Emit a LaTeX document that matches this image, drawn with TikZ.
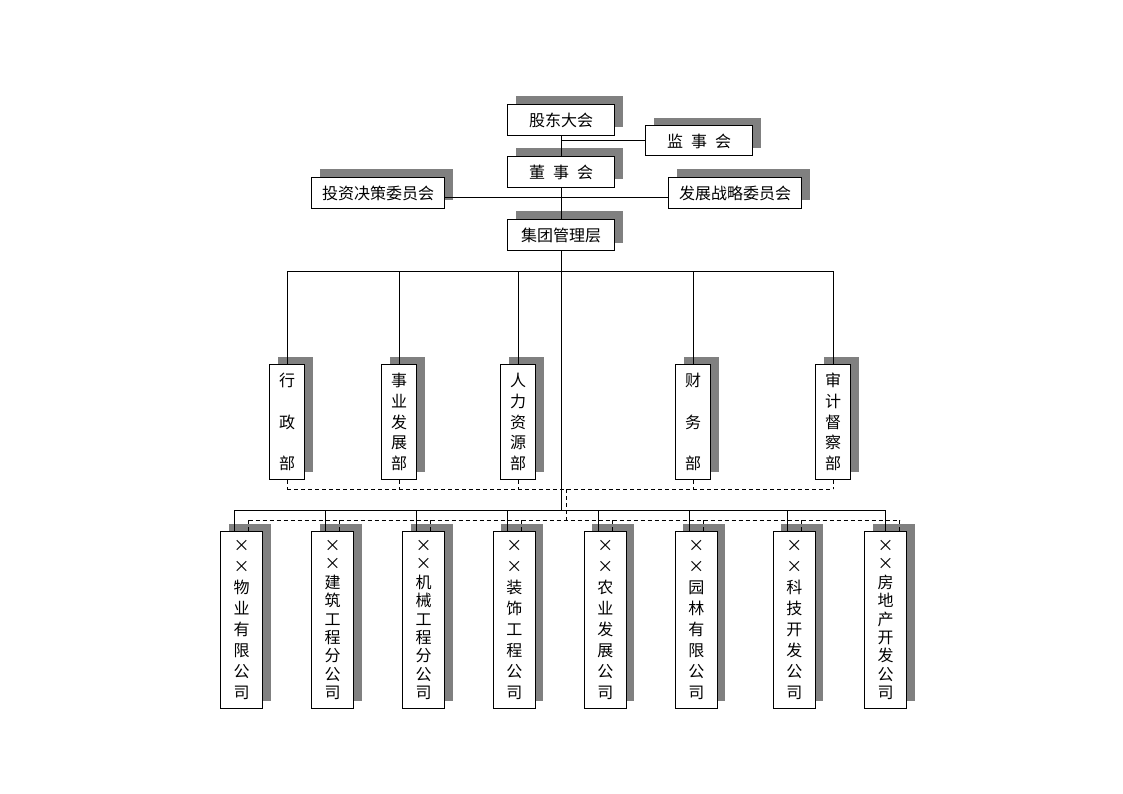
\documentclass[tikz,border=0pt]{standalone}
\usepackage{fontspec}
\newfontfamily\cjk{Noto Sans CJK SC}
\usepackage{tikz}
\usetikzlibrary{shadows}

\begin{document}
\begin{tikzpicture}[x=1pt, y=-1pt, line width=1pt,
  box/.style={draw, fill=white, inner sep=0pt, font=\cjk\fontsize{16pt}{19pt}\selectfont,
    general shadow={fill=gray, shadow xshift=8pt, shadow yshift=8pt}},
  hbox/.style={box, minimum width=107pt, minimum height=31pt},
  dbox/.style={box, minimum width=35pt, minimum height=115pt, align=center, font=\cjk\fontsize{16pt}{#1}\selectfont},
  vbox/.style={box, minimum width=42pt, minimum height=177pt, align=center, font=\cjk\fontsize{16pt}{#1}\selectfont},
  dashline/.style={dash pattern=on 4pt off 3pt}]
\useasboundingbox (0,0) rectangle (1123,794);
% top of the chart: boards and committees
\node[hbox] (gd) at (561,120) {股东大会};
\node[hbox, minimum height=30pt] (js) at (699,141) {监\hspace{0.5em}事\hspace{0.5em}会};
\node[hbox] (dsh) at (561,172) {董\hspace{0.5em}事\hspace{0.5em}会};
\node[hbox, minimum width=133pt] (tz) at (378,193) {投资决策委员会};
\node[hbox, minimum width=133pt] (fz) at (735,193) {发展战略委员会};
\node[hbox] (jt) at (561,235) {集团管理层};
% departments
\foreach \n/\x/\s/\t in {xz/287/41.3pt/{行\\政\\部}, sy/399/20.6pt/{事\\业\\发\\展\\部},
    rl/518/20.6pt/{人\\力\\资\\源\\部}, cw/693/41.3pt/{财\\务\\部}, sj/833/20.6pt/{审\\计\\督\\察\\部}}
  \node[dbox=\s] (\n) at (\x,422) {\t};
% subsidiaries
\foreach \n/\x/\s/\t in {s1/241.5/21pt/{×\\×\\物\\业\\有\\限\\公\\司},
    s2/332.5/18.4pt/{×\\×\\建\\筑\\工\\程\\分\\公\\司},
    s3/423.5/18.4pt/{×\\×\\机\\械\\工\\程\\分\\公\\司},
    s4/514.3/21pt/{×\\×\\装\\饰\\工\\程\\公\\司},
    s5/605.3/21pt/{×\\×\\农\\业\\发\\展\\公\\司},
    s6/696.3/21pt/{×\\×\\园\\林\\有\\限\\公\\司},
    s7/794.3/21pt/{×\\×\\科\\技\\开\\发\\公\\司},
    s8/885.5/18.4pt/{×\\×\\房\\地\\产\\开\\发\\公\\司}}
  \node[vbox=\s] (\n) at (\x,620) {\t};
% bus lines
\coordinate (dbus) at (0,271);
\coordinate (ddash) at (0,489);
\coordinate (sbus) at ([yshift=21pt]s1.north);
\coordinate (sdash) at ([yshift=11pt]s1.north);
\coordinate (link) at (566,489);
% spine
\draw (gd.south) -- (dsh.north);
\draw (gd.south |- js.west) -- (js.west);
\draw (dsh.south) -- (jt.north);
\draw ([yshift=-5pt]tz.east) -- ([yshift=-5pt]fz.west);
\draw (jt.south) -- (jt.south |- sbus);
% departments
\draw (xz.north |- dbus) -- (sj.north |- dbus);
\foreach \n in {xz,sy,rl,cw,sj}{
  \draw (\n.north |- dbus) -- (\n.north);
  \draw[dashline] (\n.south) -- (\n.south |- ddash);
}
\draw[dashline] (xz.south |- ddash) -- (sj.south |- ddash);
\draw[dashline] (link) -- (link |- sdash);
% subsidiaries
\draw ([xshift=-7pt,yshift=21pt]s1.north) -- ([yshift=21pt]s8.north);
\draw[dashline] ([xshift=7pt,yshift=11pt]s1.north) -- ([xshift=14pt,yshift=11pt]s8.north);
\foreach \n/\a/\b in {s1/-7/7, s2/-7/7, s3/-7/7, s4/-7/7, s5/-7/7, s6/-7/7, s7/-7/7, s8/0/14}{
  \draw ([xshift=\a pt,yshift=21pt]\n.north) -- ([xshift=\a pt]\n.north);
  \draw[dashline] ([xshift=\b pt,yshift=11pt]\n.north) -- ([xshift=\b pt]\n.north);
}
\end{tikzpicture}
\end{document}
